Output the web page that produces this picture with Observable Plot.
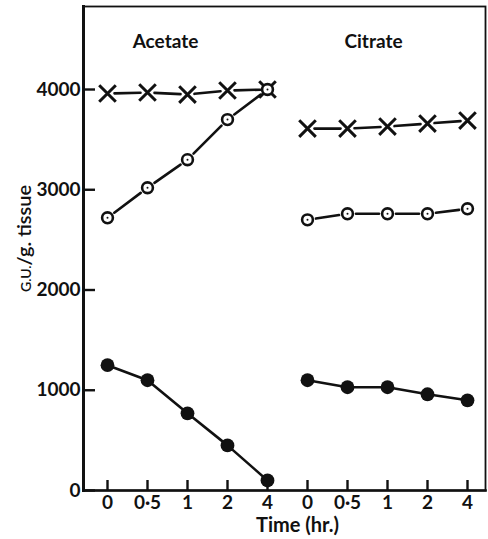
<!DOCTYPE html>
<html>
<head>
<meta charset="utf-8">
<script src="https://cdn.jsdelivr.net/npm/d3@7"></script>
<script src="https://cdn.jsdelivr.net/npm/@observablehq/plot@0.6"></script>
<style>
  html, body { margin: 0; padding: 0; background: #fff; }
  #chart { width: 488px; height: 539px; }
</style>
</head>
<body>
<div id="chart"></div>
<script>
// Incubation media and sampling times (hr.)
const media = ["Acetate", "Citrate"];
const times = ["0", "0·5", "1", "2", "4"];
const yTicks = [0, 1000, 2000, 3000, 4000];
const xTitle = "Time (hr.)";
const yTitle = "G.U./g. tissue";

// G.U./g. tissue for each series, in the order of `times`
const acetateCross  = [3960, 3970, 3950, 3990, 4000];
const acetateOpen   = [2720, 3020, 3300, 3700, 4000];
const acetateFilled = [1250, 1100, 770, 450, 100];
const citrateCross  = [3610, 3610, 3630, 3660, 3690];
const citrateOpen   = [2700, 2760, 2760, 2760, 2810];
const citrateFilled = [1100, 1030, 1030, 960, 900];

const seriesNames = ["cross", "open", "filled"];
const seriesByMedium = {
  Acetate: {cross: acetateCross, open: acetateOpen, filled: acetateFilled},
  Citrate: {cross: citrateCross, open: citrateOpen, filled: citrateFilled}
};

// one x position per (medium, time) pair
const key = (m, t) => `${m}|${t}`;
const xDomain = media.flatMap(m => times.map(t => key(m, t)));

const points = [];
const segments = [];
for (const m of media) {
  for (const s of seriesNames) {
    const vals = seriesByMedium[m][s];
    vals.forEach((v, i) => points.push({medium: m, series: s, key: key(m, times[i]), value: v}));
    for (let i = 0; i < vals.length - 1; i++) {
      segments.push({series: s, k1: key(m, times[i]), k2: key(m, times[i + 1]), v1: vals[i], v2: vals[i + 1]});
    }
  }
}
const only = (arr, s) => arr.filter(d => d.series === s);

const ink = "#111";
const W = 488, H = 539, ML = 83, MR = 3, MT = 6, MB = 49;
const frameW = W - ML - MR, frameH = H - MT - MB;

const chart = Plot.plot({
  width: W,
  height: H,
  marginLeft: ML,
  marginRight: MR,
  marginTop: MT,
  marginBottom: MB,
  style: {fontFamily: "Lato, 'Open Sans', sans-serif", fontSize: "19px", fontWeight: "bold", color: ink, background: "#fff"},
  x: {type: "point", domain: xDomain, padding: 0, insetLeft: 23, insetRight: 18},
  y: {domain: [0, 4828]},
  marks: [
    // frame: thin top/right, heavier axes
    Plot.frame({stroke: ink, strokeWidth: 1.8}),
    Plot.frame({anchor: "left", stroke: ink, strokeWidth: 3}),
    Plot.frame({anchor: "bottom", stroke: ink, strokeWidth: 2.6}),

    // y axis labels outside the frame
    Plot.axisY(yTicks, {tickSize: 0, tickPadding: 3, fontSize: 19, tickFormat: d => `${d}`,
      label: yTitle, labelAnchor: "center", labelOffset: 67, labelArrow: false}),
    // y ticks pointing inward from the left axis
    Plot.tickY(yTicks, {y: d => d, insetRight: frameW - 12, stroke: ink, strokeWidth: 2.4}),

    // x axis labels
    Plot.axisX(xDomain, {tickSize: 0, tickPadding: 5, fontSize: 19, tickFormat: d => d.split("|")[1], label: null}),
    // x ticks pointing up from the bottom axis
    Plot.tickX(xDomain, {x: d => d, insetTop: frameH - 10, stroke: ink, strokeWidth: 2.4}),

    // connecting segments, stopping short of the open markers
    Plot.arrow(only(segments, "cross"), {x1: "k1", y1: "v1", x2: "k2", y2: "v2", headLength: 0, inset: 7, stroke: ink, strokeWidth: 2.6}),
    Plot.arrow(only(segments, "open"), {x1: "k1", y1: "v1", x2: "k2", y2: "v2", headLength: 0, inset: 8.5, stroke: ink, strokeWidth: 2.6}),
    Plot.arrow(only(segments, "filled"), {x1: "k1", y1: "v1", x2: "k2", y2: "v2", headLength: 0, inset: 0, stroke: ink, strokeWidth: 2.6}),

    // markers
    Plot.dot(only(points, "cross"), {x: "key", y: "value", symbol: "times", r: 7.6, stroke: ink, strokeWidth: 3}),
    Plot.dot(only(points, "open"), {x: "key", y: "value", r: 5.4, fill: "#fff", stroke: ink, strokeWidth: 2.6}),
    Plot.dot(only(points, "open"), {x: "key", y: "value", r: 1, fill: ink}),
    Plot.dot(only(points, "filled"), {x: "key", y: "value", r: 6.9, fill: ink}),

    // panel headings
    Plot.text([media[0]], {x: d => key(d, times[1]), frameAnchor: "top", lineAnchor: "middle", dy: 35, dx: 18, text: d => d, fontSize: 19}),
    Plot.text([media[1]], {x: d => key(d, times[1]), frameAnchor: "top", lineAnchor: "middle", dy: 35, dx: 26, text: d => d, fontSize: 19}),

    // x axis title
    Plot.text([xTitle], {x: () => key(media[1], times[0]), frameAnchor: "bottom", lineAnchor: "middle", dy: 35, dx: -10, text: d => d, fontSize: 20})
  ]
});

// y title: G.U. set in small capitals, nudged up slightly
for (const node of chart.querySelectorAll("text")) {
  if (node.textContent !== yTitle) continue;
  const t = d3.select(node);
  t.text(null);
  t.attr("font-size", null).attr("dx", null);
  t.style("font-size", "20px").style("font-weight", "600");
  t.append("tspan").style("font-size", "14px").text("G.U.");
  t.append("tspan").style("font-size", "20px").text("/g. tissue");
  const tr = node.getAttribute("transform") || "";
  node.setAttribute("transform", `translate(0,-10) ${tr}`);
}

document.getElementById("chart").append(chart);
</script>
</body>
</html>
